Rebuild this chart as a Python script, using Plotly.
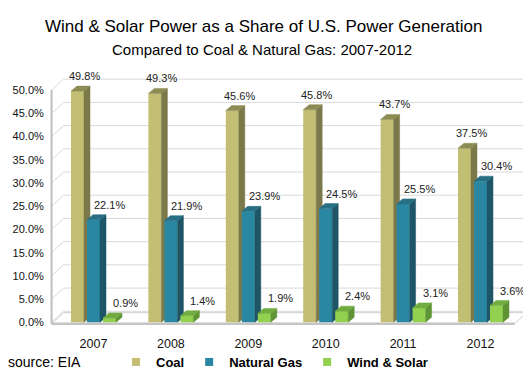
import plotly.graph_objects as go

# ---------------- data ----------------
years = ["2007", "2008", "2009", "2010", "2011", "2012"]
coal = [49.8, 49.3, 45.6, 45.8, 43.7, 37.5]
natural_gas = [22.1, 21.9, 23.9, 24.5, 25.5, 30.4]
wind_solar = [0.9, 1.4, 1.9, 2.4, 3.1, 3.6]
series_names = ["Coal", "Natural Gas", "Wind & Solar"]
y_tick_values = [0, 5, 10, 15, 20, 25, 30, 35, 40, 45, 50]

# ---------------- geometry / styles ----------------
# the page body keeps an 8px margin, so the figure is drawn 8px smaller
PAGE_OFF = 8
W, H = 531 - PAGE_OFF, 376 - PAGE_OFF
# plot area in window pixels
PL, PR, PT, PB = 50, 527, 67, 326
ML, MR, MT, MB = PL - PAGE_OFF, 531 - PR, PT - PAGE_OFF, 376 - PB
PXX = 77.4      # px per category unit
PXY = 4.642     # px per percentage point
plot_w = PR - PL
plot_h = PB - PT
X0 = -43.5 / PXX
X1 = X0 + plot_w / PXX
Y0 = -0.8
Y1 = Y0 + plot_h / PXY

BW = 13 / PXX
OFFS = [-16 / PXX, 0.0, 16 / PXX]
DX, DY = 6 / PXX, 5 / PXY          # bar depth
WX, WY = 12 / PXX, 11 / PXY        # wall depth

front = ["#C2BF74", "#2A87A1", "#92D050"]
side = ["#7B794A", "#1E5667", "#5F9436"]
top = ["#8E8C55", "#266F84", "#70AC3E"]
label_xshift = [7, 16, 16]

ARIAL = "Liberation Sans, Arial, sans-serif"

values = [coal, natural_gas, wind_solar]
xs = list(range(len(years)))

fig = go.Figure()
axis_suffix = ["", "2", "3"]

for s, vals in enumerate(values):
    xa = "x" + axis_suffix[s]
    ya = "y" + axis_suffix[s]
    bx = [i + OFFS[s] for i in xs]
    fig.add_trace(go.Bar(
        x=bx, y=vals, width=BW, xaxis=xa, yaxis=ya,
        marker=dict(color=front[s], line=dict(width=0)),
        showlegend=False, hoverinfo="skip",
    ))
    tx, ty, sx, sy = [], [], [], []
    for c, v in zip(bx, vals):
        xl, xr = c - BW / 2, c + BW / 2
        tx += [xl, xr, xr + DX, xl + DX, xl, None]
        ty += [v, v, v + DY, v + DY, v, None]
        sx += [xr, xr + DX, xr + DX, xr, xr, None]
        sy += [0, DY, v + DY, v, 0, None]
    fig.add_trace(go.Scatter(x=sx, y=sy, xaxis=xa, yaxis=ya, mode="lines",
                             fill="toself", fillcolor=side[s],
                             line=dict(color=side[s], width=0.5),
                             showlegend=False, hoverinfo="skip"))
    fig.add_trace(go.Scatter(x=tx, y=ty, xaxis=xa, yaxis=ya, mode="lines",
                             fill="toself", fillcolor=top[s],
                             line=dict(color=top[s], width=0.5),
                             showlegend=False, hoverinfo="skip"))

# legend entries
for s, name in enumerate(series_names):
    fig.add_trace(go.Scatter(x=[None], y=[None], mode="markers", name=name,
                             marker=dict(symbol="square", size=8, color=front[s])))

# ---------------- walls / floor (decoration) ----------------
shapes = []
grid_col = "#D9D9D9"
fx0 = X0 + 0.02
for t in y_tick_values:
    shapes.append(dict(type="line", xref="x", yref="y", layer="below",
                       x0=fx0 + WX, y0=t + WY, x1=X1, y1=t + WY,
                       line=dict(color=grid_col, width=1)))
    shapes.append(dict(type="line", xref="x", yref="y", layer="below",
                       x0=fx0, y0=t, x1=fx0 + WX, y1=t + WY,
                       line=dict(color=grid_col, width=1)))
shapes.append(dict(type="path", xref="x", yref="y", layer="below",
                   path=f"M{fx0},-0.3 L{X1 - WX - 0.005},-0.3 L{X1 - 0.005},{WY - 0.3} L{fx0 + WX},{WY - 0.3} Z",
                   fillcolor="white", line=dict(color="#CFCFCF", width=1)))
shapes.append(dict(type="line", xref="x", yref="y", layer="below",
                   x0=fx0, y0=-0.3, x1=X1 - WX - 0.005, y1=-0.3,
                   line=dict(color="#C4C4C4", width=2.5)))
shapes.append(dict(type="line", xref="x", yref="y", layer="below",
                   x0=fx0, y0=-0.3, x1=fx0, y1=max(y_tick_values),
                   line=dict(color="#BEBEBE", width=2)))

# ---------------- annotations ----------------
def py_to_paper(py):
    return (PB - py) / plot_h

def px_to_paper(px):
    return (px - PL) / plot_w

ann = []
for s, vals in enumerate(values):
    for i, v in zip(xs, vals):
        ann.append(dict(x=i + OFFS[s], y=v, xref="x", yref="y",
                        text=f"{v:.1f}%", showarrow=False,
                        xshift=label_xshift[s], yshift=15,
                        font=dict(family=ARIAL, size=11, color="#222222")))
ann.append(dict(x=px_to_paper(263), y=py_to_paper(26), xref="paper", yref="paper",
                text="Wind & Solar Power as a Share of U.S. Power Generation",
                showarrow=False, xanchor="center", yanchor="middle",
                font=dict(family=ARIAL, size=17, color="#000000")))
ann.append(dict(x=px_to_paper(262), y=py_to_paper(50), xref="paper", yref="paper",
                text="Compared to Coal & Natural Gas: 2007-2012",
                showarrow=False, xanchor="center", yanchor="middle",
                font=dict(family=ARIAL, size=15, color="#000000")))
ann.append(dict(x=px_to_paper(6), y=py_to_paper(362), xref="paper", yref="paper",
                text="source: EIA", showarrow=False, xanchor="left", yanchor="middle",
                font=dict(family=ARIAL, size=14, color="#000000")))

hidden = dict(visible=False, showgrid=False, zeroline=False)
fig.update_layout(
    width=W, height=H, autosize=False,
    margin=dict(l=ML, r=MR, t=MT, b=MB, pad=0, autoexpand=False),
    paper_bgcolor="white", plot_bgcolor="white",
    barmode="overlay",
    shapes=shapes, annotations=ann,
    xaxis=dict(range=[X0, X1], tickvals=xs, ticktext=years, showgrid=False,
               zeroline=False, showline=False, ticks="outside", ticklen=6,
               tickcolor="rgba(0,0,0,0)",
               tickfont=dict(family=ARIAL, size=12.5, color="#111111")),
    yaxis=dict(range=[Y0, Y1], tickvals=y_tick_values,
               ticktext=[f"{t:.1f}%" for t in y_tick_values], showgrid=False,
               zeroline=False, showline=False, ticks="outside", ticklen=3,
               tickcolor="rgba(0,0,0,0)",
               tickfont=dict(family=ARIAL, size=11, color="#111111")),
    xaxis2=dict(range=[X0, X1], overlaying="x", **hidden),
    yaxis2=dict(range=[Y0, Y1], overlaying="y", **hidden),
    xaxis3=dict(range=[X0, X1], overlaying="x", **hidden),
    yaxis3=dict(range=[Y0, Y1], overlaying="y", **hidden),
    legend=dict(orientation="h", x=px_to_paper(116), y=py_to_paper(362),
                xanchor="left", yanchor="middle", bgcolor="rgba(0,0,0,0)",
                font=dict(family=ARIAL, size=13, color="#000000", weight="bold"),
                itemwidth=30, tracegroupgap=0),
    showlegend=True,
)

fig.write_html("out.html")
